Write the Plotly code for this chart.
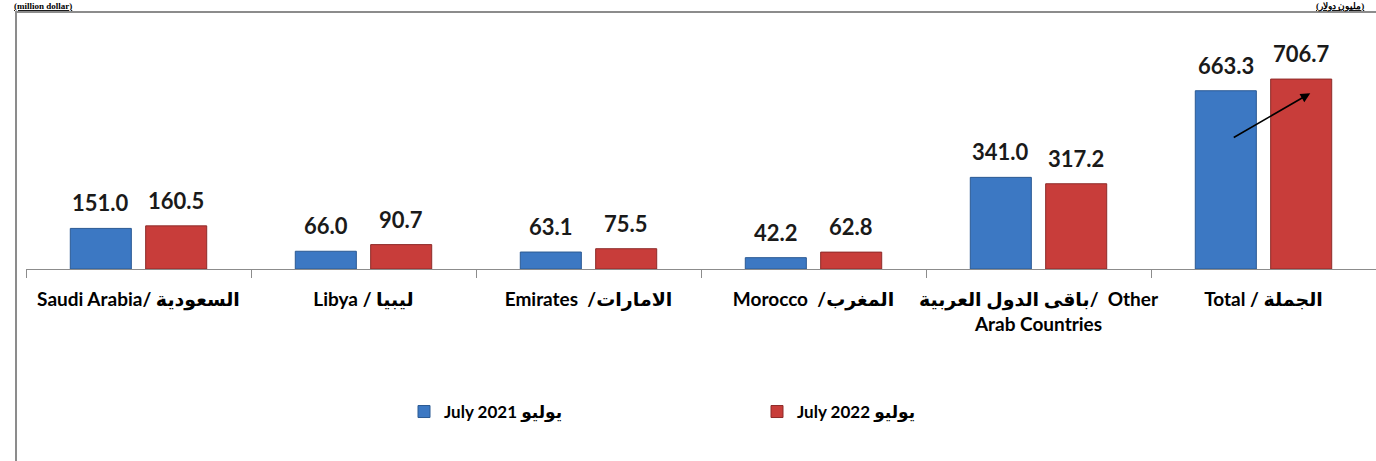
import plotly.graph_objects as go

categories = [
    "Saudi Arabia/ السعودية",
    "Libya / ليبيا",
    "Emirates  /الامارات",
    "Morocco  /المغرب",
    "باقى الدول العربية/  Other<br>Arab Countries",
    "Total / الجملة",
]
july_2021 = [151.0, 66.0, 63.1, 42.2, 341.0, 663.3]
july_2022 = [160.5, 90.7, 75.5, 62.8, 317.2, 706.7]
series_names = ["July 2021 يوليو", "July 2022 يوليو"]
unit_left = "(million dollar)"
unit_right = "(مليون دولار)"

FONT = "Lato, 'DejaVu Sans', sans-serif"
BLUE = "#3C78C3"
BLUE_EDGE = "#2B5A93"
RED = "#C83D3A"
RED_EDGE = "#8E2B29"

fig = go.Figure()
fig.add_trace(go.Bar(x=categories, y=july_2021, name=series_names[0],
                     marker=dict(color=BLUE, line=dict(color=BLUE_EDGE, width=1))))
fig.add_trace(go.Bar(x=categories, y=july_2022, name=series_names[1],
                     marker=dict(color=RED, line=dict(color=RED_EDGE, width=1))))

# value labels above bars
shift = 37.75
for vals, xs in ((july_2021, -shift), (july_2022, shift)):
    for c, v in zip(categories, vals):
        fig.add_annotation(x=c, y=v, text=f"{v:.1f}", showarrow=False,
                           xshift=xs, yanchor="bottom", yshift=10,
                           font=dict(family=FONT, size=22, color="#1a1a1a", weight="bold"))

# growth arrow on Total
fig.add_annotation(x=categories[-1], y=july_2022[-1] * 0.925, xshift=shift + 9,
                   ax=-78, ay=45, axref="pixel", ayref="pixel",
                   showarrow=True, arrowhead=2, arrowsize=1.2, arrowwidth=1.6,
                   arrowcolor="#000000", text="")

# units
fig.add_annotation(xref="paper", yref="paper", x=-0.0096, y=1.249, xanchor="left", yanchor="top",
                   text=f"<b><u>{unit_left}</u></b>", showarrow=False, borderpad=0,
                   font=dict(family="'Liberation Serif', serif", size=9, color="#000"))
fig.add_annotation(xref="paper", yref="paper", x=0.9919, y=1.249, xanchor="right", yanchor="top",
                   text=f"<b><u>{unit_right}</u></b>", showarrow=False, borderpad=0,
                   font=dict(family="'Liberation Serif', serif", size=9, color="#000"))

# chart frame
fig.add_shape(type="path", xref="paper", yref="paper",
              path="M -0.0074,-1.2 L -0.0074,1.195 L 1.01,1.195",
              line=dict(color="#8c8c8c", width=2))

fig.update_layout(
    width=1376, height=461,
    margin=dict(l=26, r=0, t=54, b=192),
    paper_bgcolor="white", plot_bgcolor="white",
    barmode="group", bargap=0.33, bargroupgap=0.19,
    showlegend=True,
    legend=dict(orientation="h", x=0.28, xanchor="left", y=-0.665, yanchor="middle",
                font=dict(family=FONT, size=17, color="#000", weight="bold"),
                entrywidth=308, itemwidth=30, traceorder="normal"),
    xaxis=dict(showline=True, linecolor="#8c8c8c", linewidth=1,
               ticks="outside", tickson="boundaries", ticklen=8, tickcolor="#8c8c8c",
               tickfont=dict(family=FONT, size=19, color="#000", weight="bold"),
               ticklabelstandoff=13, showgrid=False, tickangle=0),
    yaxis=dict(range=[0, 800], visible=False, showgrid=False),
)

fig.write_html("out.html", post_script="document.body.style.margin='0';",
               config={"displayModeBar": False})
